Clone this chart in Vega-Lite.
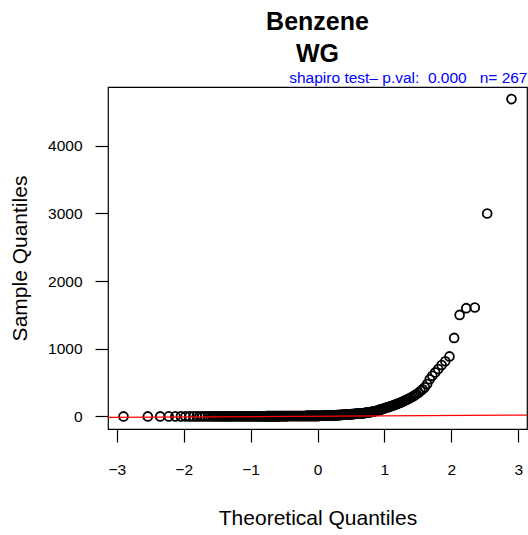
{
  "$schema": "https://vega.github.io/schema/vega-lite/v6.json",
  "width": 419,
  "height": 342,
  "autosize": "none",
  "padding": {"left": 108, "top": 87, "right": 1, "bottom": 106},
  "background": "white",
  "config": {
    "view": {"stroke": "black", "strokeWidth": 1.2},
    "font": "Liberation Sans",
    "axis": {
      "grid": false, "domain": false,
      "labelFont": "Liberation Sans", "labelFontSize": 15.5, "labelColor": "black",
      "tickColor": "black", "tickWidth": 1.2, "tickSize": 13,
      "titleFont": "Liberation Sans", "titleFontSize": 21, "titleFontWeight": "normal", "titleColor": "black"
    }
  },
  "title": {
    "text": ["Benzene", "WG"],
    "font": "Liberation Sans", "fontSize": 25, "fontWeight": "bold", "color": "black",
    "anchor": "middle", "lineHeight": 32, "offset": 3
  },
  "resolve": {"axis": {"x": "independent"}},
  "layer": [
    {
      "data": {"values": [
{"x":-2.899,"y":0.2},{"x":-2.536,"y":0.3},{"x":-2.351,"y":0.3},{"x":-2.223,"y":0.4},{"x":-2.124,"y":0.4},{"x":-2.042,"y":0.5},{"x":-1.972,"y":0.5},{"x":-1.910,"y":0.6},{"x":-1.855,"y":0.6},{"x":-1.805,"y":0.7},
{"x":-1.759,"y":0.7},{"x":-1.716,"y":0.8},{"x":-1.677,"y":0.8},{"x":-1.639,"y":0.9},{"x":-1.604,"y":0.9},{"x":-1.571,"y":1},{"x":-1.540,"y":1},{"x":-1.510,"y":1.1},{"x":-1.481,"y":1.1},{"x":-1.454,"y":1.2},
{"x":-1.427,"y":1.2},{"x":-1.402,"y":1.3},{"x":-1.377,"y":1.3},{"x":-1.353,"y":1.4},{"x":-1.330,"y":1.4},{"x":-1.307,"y":1.5},{"x":-1.286,"y":1.5},{"x":-1.265,"y":1.6},{"x":-1.244,"y":1.6},{"x":-1.224,"y":1.7},
{"x":-1.204,"y":1.7},{"x":-1.185,"y":1.8},{"x":-1.166,"y":1.8},{"x":-1.148,"y":1.9},{"x":-1.130,"y":1.9},{"x":-1.113,"y":2},{"x":-1.095,"y":2},{"x":-1.078,"y":2.1},{"x":-1.062,"y":2.1},{"x":-1.045,"y":2.2},
{"x":-1.029,"y":2.2},{"x":-1.013,"y":2.3},{"x":-0.998,"y":2.3},{"x":-0.983,"y":2.4},{"x":-0.967,"y":2.4},{"x":-0.953,"y":2.5},{"x":-0.938,"y":2.5},{"x":-0.923,"y":2.6},{"x":-0.909,"y":2.6},{"x":-0.895,"y":2.7},
{"x":-0.881,"y":2.8},{"x":-0.867,"y":2.8},{"x":-0.854,"y":2.9},{"x":-0.840,"y":3},{"x":-0.827,"y":3},{"x":-0.814,"y":3.1},{"x":-0.801,"y":3.2},{"x":-0.788,"y":3.2},{"x":-0.775,"y":3.3},{"x":-0.763,"y":3.4},
{"x":-0.750,"y":3.4},{"x":-0.738,"y":3.5},{"x":-0.725,"y":3.6},{"x":-0.713,"y":3.6},{"x":-0.701,"y":3.7},{"x":-0.689,"y":3.8},{"x":-0.677,"y":3.8},{"x":-0.665,"y":3.9},{"x":-0.654,"y":4},{"x":-0.642,"y":4},
{"x":-0.631,"y":4.1},{"x":-0.619,"y":4.2},{"x":-0.608,"y":4.2},{"x":-0.597,"y":4.3},{"x":-0.586,"y":4.4},{"x":-0.575,"y":4.4},{"x":-0.564,"y":4.5},{"x":-0.553,"y":4.6},{"x":-0.542,"y":4.6},{"x":-0.531,"y":4.7},
{"x":-0.520,"y":4.8},{"x":-0.509,"y":4.8},{"x":-0.499,"y":4.9},{"x":-0.488,"y":5},{"x":-0.477,"y":5},{"x":-0.467,"y":5.1},{"x":-0.457,"y":5.2},{"x":-0.446,"y":5.2},{"x":-0.436,"y":5.3},{"x":-0.425,"y":5.4},
{"x":-0.415,"y":5.4},{"x":-0.405,"y":5.5},{"x":-0.395,"y":5.6},{"x":-0.385,"y":5.6},{"x":-0.375,"y":5.7},{"x":-0.365,"y":5.8},{"x":-0.355,"y":5.8},{"x":-0.345,"y":5.9},{"x":-0.335,"y":6},{"x":-0.325,"y":6},
{"x":-0.315,"y":6.1},{"x":-0.305,"y":6.2},{"x":-0.295,"y":6.2},{"x":-0.285,"y":6.3},{"x":-0.275,"y":6.4},{"x":-0.266,"y":6.4},{"x":-0.256,"y":6.5},{"x":-0.246,"y":6.6},{"x":-0.236,"y":6.6},{"x":-0.227,"y":6.7},
{"x":-0.217,"y":6.8},{"x":-0.207,"y":6.8},{"x":-0.198,"y":6.9},{"x":-0.188,"y":7},{"x":-0.179,"y":7},{"x":-0.169,"y":7.1},{"x":-0.160,"y":7.2},{"x":-0.150,"y":7.2},{"x":-0.141,"y":7.3},{"x":-0.132,"y":7.4},
{"x":-0.122,"y":7.4},{"x":-0.113,"y":7.5},{"x":-0.103,"y":7.5},{"x":-0.094,"y":7.6},{"x":-0.085,"y":7.6},{"x":-0.075,"y":7.7},{"x":-0.066,"y":7.7},{"x":-0.056,"y":7.8},{"x":-0.047,"y":7.8},{"x":-0.038,"y":7.9},
{"x":-0.028,"y":7.9},{"x":-0.019,"y":8},{"x":-0.009,"y":8},{"x":0,"y":8},
{"x":0.009,"y":8},{"x":0.019,"y":8},{"x":0.028,"y":8.5},{"x":0.038,"y":9},{"x":0.047,"y":9},{"x":0.056,"y":9.5},{"x":0.066,"y":10},{"x":0.075,"y":10},{"x":0.085,"y":10.5},{"x":0.094,"y":11},
{"x":0.103,"y":11},{"x":0.113,"y":11.5},{"x":0.122,"y":12},{"x":0.132,"y":12},{"x":0.141,"y":12.5},{"x":0.150,"y":13},{"x":0.160,"y":13},{"x":0.169,"y":13.5},{"x":0.179,"y":14},{"x":0.188,"y":14},
{"x":0.198,"y":14.5},{"x":0.207,"y":15},{"x":0.217,"y":15},{"x":0.227,"y":16},{"x":0.236,"y":16},{"x":0.246,"y":17},{"x":0.256,"y":17},{"x":0.266,"y":18},{"x":0.275,"y":18},{"x":0.285,"y":19},
{"x":0.295,"y":19},{"x":0.305,"y":20},{"x":0.315,"y":20},{"x":0.325,"y":21},{"x":0.335,"y":21},{"x":0.345,"y":22},{"x":0.355,"y":22},{"x":0.365,"y":23},{"x":0.375,"y":24},{"x":0.385,"y":24},
{"x":0.395,"y":25},{"x":0.405,"y":25},{"x":0.415,"y":26},{"x":0.425,"y":27},{"x":0.436,"y":27},{"x":0.446,"y":28},{"x":0.457,"y":29},{"x":0.467,"y":30},{"x":0.477,"y":30},{"x":0.488,"y":31},{"x":0.499,"y":32},
{"x":0.509,"y":33},{"x":0.520,"y":34},{"x":0.531,"y":35},{"x":0.542,"y":36},{"x":0.553,"y":37},{"x":0.564,"y":38},{"x":0.575,"y":39},{"x":0.586,"y":40},{"x":0.597,"y":41},{"x":0.608,"y":42},
{"x":0.619,"y":42},{"x":0.631,"y":43},{"x":0.642,"y":44},{"x":0.654,"y":45},{"x":0.665,"y":46},{"x":0.677,"y":47},{"x":0.689,"y":48},{"x":0.701,"y":50},{"x":0.713,"y":52},
{"x":0.725,"y":54},{"x":0.738,"y":56},{"x":0.750,"y":58},{"x":0.763,"y":60},{"x":0.775,"y":62},{"x":0.788,"y":64},{"x":0.801,"y":66},{"x":0.814,"y":68},{"x":0.827,"y":71},{"x":0.840,"y":74},
{"x":0.854,"y":77},{"x":0.867,"y":80},{"x":0.881,"y":84},{"x":0.895,"y":88},{"x":0.909,"y":92},{"x":0.923,"y":96},{"x":0.938,"y":100},{"x":0.953,"y":104},{"x":0.967,"y":109},{"x":0.983,"y":114},
{"x":0.998,"y":120},{"x":1.013,"y":125},{"x":1.029,"y":130},{"x":1.045,"y":135},{"x":1.062,"y":140},{"x":1.078,"y":145},{"x":1.095,"y":150},{"x":1.113,"y":156},{"x":1.130,"y":162},{"x":1.148,"y":168},
{"x":1.166,"y":175},{"x":1.185,"y":182},{"x":1.204,"y":190},{"x":1.224,"y":198},{"x":1.244,"y":206},{"x":1.265,"y":215},{"x":1.286,"y":224},{"x":1.307,"y":234},{"x":1.330,"y":245},{"x":1.353,"y":256},
{"x":1.377,"y":268},{"x":1.402,"y":282},{"x":1.427,"y":296},{"x":1.454,"y":312},{"x":1.481,"y":330},{"x":1.510,"y":350},{"x":1.540,"y":375},{"x":1.571,"y":400},
{"x":1.604,"y":430},{"x":1.639,"y":480},{"x":1.677,"y":550},{"x":1.716,"y":600},{"x":1.759,"y":650},{"x":1.805,"y":700},{"x":1.855,"y":760},{"x":1.910,"y":815},{"x":1.972,"y":887},{"x":2.042,"y":1160},
{"x":2.124,"y":1500},{"x":2.223,"y":1600},{"x":2.351,"y":1610},{"x":2.536,"y":3000},{"x":2.899,"y":4690}
      ]},
      "mark": {"type": "point", "shape": "circle", "filled": false, "color": "black", "size": 78, "strokeWidth": 1.8, "opacity": 1},
      "encoding": {
        "x": {"field": "x", "type": "quantitative",
              "scale": {"domain": [-3.131, 3.131], "nice": false, "zero": false},
              "axis": {"orient": "bottom", "title": "Theoretical Quantiles", "values": [-3, -2, -1, 0, 1, 2, 3],
                       "labelPadding": 20, "titlePadding": 30}},
        "y": {"field": "y", "type": "quantitative",
              "scale": {"domain": [-186, 4869], "nice": false, "zero": false},
              "axis": {"title": "Sample Quantiles", "values": [0, 1000, 2000, 3000, 4000], "format": "d",
                       "labelPadding": 13, "titlePadding": 17}}
      }
    },
    {
      "data": {"values": [{"x": -3.131, "y": -15}, {"x": 3.131, "y": 20}]},
      "mark": {"type": "line", "color": "#FF0000", "strokeWidth": 1.3, "clip": true},
      "encoding": {
        "x": {"field": "x", "type": "quantitative",
              "axis": {"orient": "top", "title": "shapiro test– p.val:\u00a0\u00a00.000\u00a0\u00a0\u00a0n=\u00a0267",
                       "ticks": false, "labels": false, "domain": false,
                       "titleAnchor": "end", "titleColor": "#0000FF", "titleFontSize": 15.5,
                       "titleBaseline": "alphabetic", "titlePadding": 5}},
        "y": {"field": "y", "type": "quantitative"}
      }
    }
  ]
}
